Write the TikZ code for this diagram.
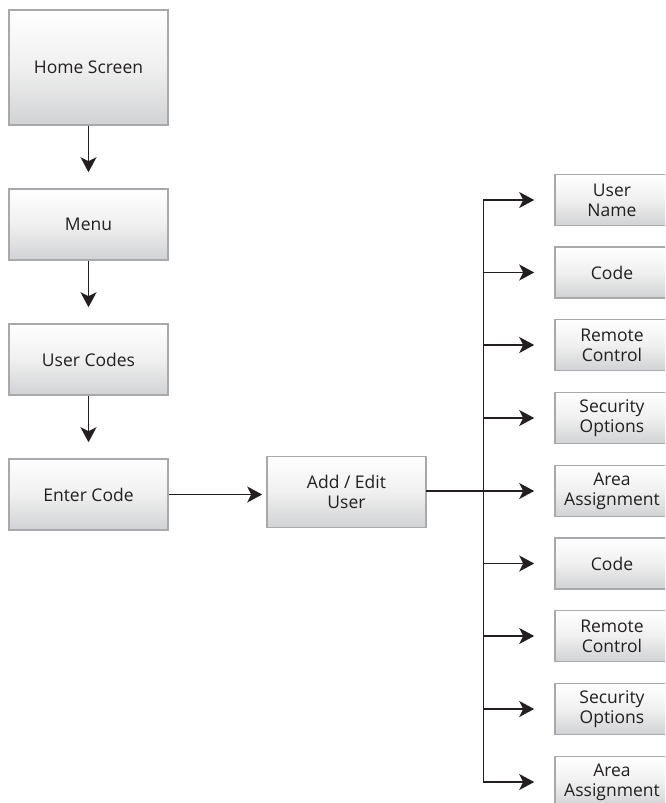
\documentclass[tikz,border=0pt]{standalone}
\usepackage{fontspec}
\setmainfont{Open Sans}
\usetikzlibrary{arrows.meta,calc}
\definecolor{txt}{HTML}{231F20}
\definecolor{bord}{HTML}{A7A9AC}
\definecolor{shadebot}{HTML}{D1D2D4}
\tikzset{
  box/.style={draw=bord, line width=1.6pt, top color=white, bottom color=shadebot,
    middle color=white!94!black, inner sep=0pt, align=center, text=txt,
    font=\fontsize{17.5}{20}\selectfont, minimum width=159pt, minimum height=71pt},
  sbox/.style={box, minimum width=114pt, minimum height=51pt},
  arr/.style={line width=1.8pt, draw=txt, -{Stealth[length=15pt,width=16pt,inset=4pt]}},
  ln/.style={line width=1.8pt, draw=txt, line cap=rect}
}
\begin{document}
\begin{tikzpicture}[x=1pt,y=-1pt]
\useasboundingbox (0,0) rectangle (665,803);
\clip (0,0) rectangle (665,803);
\node[box, minimum height=115pt] (home) at (88.5,67.5) {Home Screen};
\node[box] (menu) at (88.5,224.5) {Menu};
\node[box] (codes) at (88.5,359.5) {User Codes};
\node[box] (enter) at (88.5,494.5) {Enter Code};
\node[box] (add) at (346.5,492) {Add / Edit\\User};
\coordinate (sp) at (483.5,491);
\node[sbox] (b1) at (612,200) {User\\Name};
\node[sbox] (b2) at (612,272.5) {Code};
\node[sbox] (b3) at (612,345) {Remote\\Control};
\node[sbox] (b4) at (612,418) {Security\\Options};
\node[sbox] (b5) at (612,491) {Area\\Assignment};
\node[sbox] (b6) at (612,563.5) {Code};
\node[sbox] (b7) at (612,636) {Remote\\Control};
\node[sbox] (b8) at (612,709) {Security\\Options};
\node[sbox] (b9) at (612,782) {Area\\Assignment};
\draw[arr, shorten >=16pt] (home) -- (menu);
\draw[arr, shorten >=16pt] (menu) -- (codes);
\draw[arr, shorten >=16pt] (codes) -- (enter);
\draw[arr, shorten >=4pt] (enter.east) -- (add.west |- enter.east);
\draw[ln] (sp |- b1.west) -- (sp |- b9.west);
\draw[ln] (add.east |- b5.west) -- (sp |- b5.west);
\foreach \i in {1,...,9}{
  \draw[arr, shorten >=20pt] (sp |- b\i.west) -- (b\i.west);
}
\end{tikzpicture}
\end{document}
